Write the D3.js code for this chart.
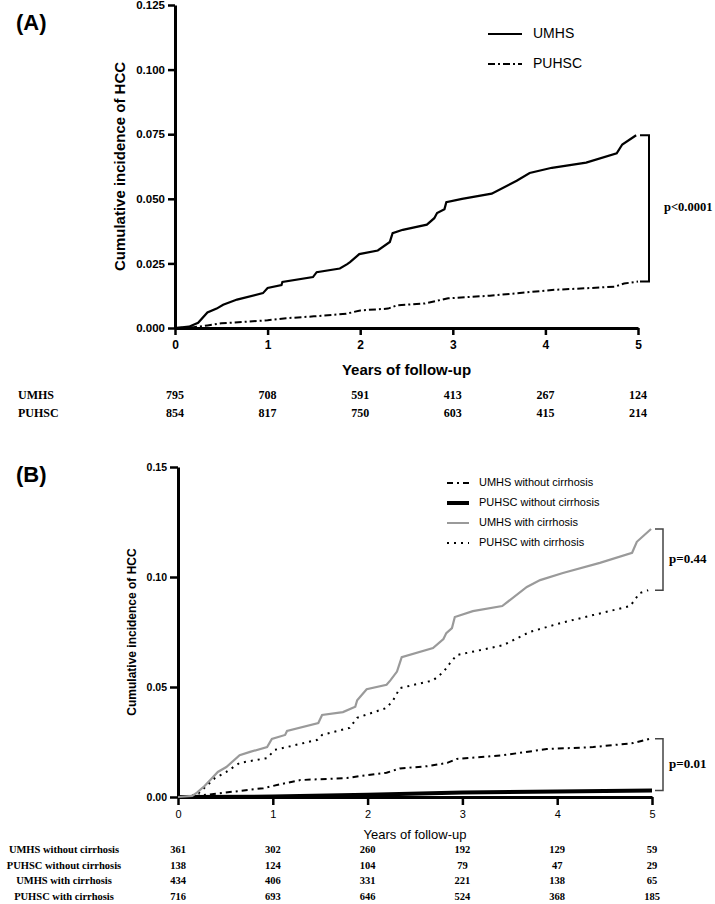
<!DOCTYPE html>
<html><head><meta charset="utf-8">
<script src="https://cdn.jsdelivr.net/npm/d3@7"></script>
<style>body{margin:0;background:#fff} svg{display:block}</style>
</head><body>
<script>
// ---------- DATA ----------
const yearTicks = [0, 1, 2, 3, 4, 5];
const aYTicks = [0, 0.025, 0.05, 0.075, 0.1, 0.125];
const bYTicks = [0, 0.05, 0.1, 0.15];

// Panel A: cumulative incidence [year, value]
const aUMHS = [[0,0],[0.15,0.0005],[0.25,0.002],[0.35,0.006],[0.45,0.0075],[0.52,0.009],[0.67,0.011],[0.95,0.0135],[1.0,0.0155],[1.15,0.0166],[1.16,0.0178],[1.49,0.0197],[1.53,0.0216],[1.78,0.023],[1.86,0.0247],[1.89,0.0255],[1.99,0.0286],[2.19,0.030],[2.32,0.0333],[2.35,0.0367],[2.46,0.038],[2.72,0.040],[2.80,0.0425],[2.83,0.0445],[2.91,0.046],[2.93,0.0487],[3.10,0.050],[3.42,0.052],[3.69,0.057],[3.83,0.060],[4.07,0.062],[4.44,0.064],[4.77,0.0676],[4.83,0.071],[4.98,0.0746]];
const aPUHSC = [[0,0],[0.2,0.0003],[0.35,0.001],[0.5,0.0018],[0.8,0.0025],[1.0,0.003],[1.2,0.0038],[1.5,0.0045],[1.85,0.0055],[2.0,0.0068],[2.3,0.0075],[2.4,0.0088],[2.7,0.0095],[2.95,0.0115],[3.4,0.0125],[3.8,0.0138],[4.1,0.0148],[4.5,0.0155],[4.75,0.016],[4.85,0.0172],[5.0,0.018]];
const aGroups = ["UMHS", "PUHSC"];
const aRisk = [[795,708,591,413,267,124],[854,817,750,603,415,214]];

// Panel B
const bUMHSnoC = [[0,0],[0.2,0.0005],[0.5,0.002],[0.9,0.004],[1.1,0.006],[1.29,0.0077],[1.78,0.0086],[1.92,0.0095],[2.2,0.011],[2.34,0.013],[2.63,0.014],[2.84,0.0155],[2.94,0.0173],[3.43,0.019],[3.89,0.0218],[4.38,0.0227],[4.8,0.0245],[4.98,0.0265]];
const bPUHSCnoC = [[0,0],[1.0,0.0002],[2.0,0.001],[3.0,0.002],[4.0,0.0025],[5.0,0.003]];
const bUMHSC = [[0,0],[0.15,0.0005],[0.2,0.002],[0.28,0.005],[0.34,0.0077],[0.42,0.0114],[0.51,0.0136],[0.65,0.019],[0.76,0.0205],[0.94,0.0227],[0.99,0.0264],[1.13,0.0282],[1.15,0.030],[1.48,0.0336],[1.52,0.0373],[1.74,0.0386],[1.87,0.041],[1.89,0.044],[1.99,0.049],[2.2,0.051],[2.24,0.053],[2.31,0.057],[2.36,0.0636],[2.69,0.0677],[2.8,0.0718],[2.83,0.0745],[2.89,0.0768],[2.92,0.0818],[3.11,0.0845],[3.42,0.0868],[3.68,0.0955],[3.82,0.0986],[4.06,0.1018],[4.45,0.1064],[4.79,0.111],[4.84,0.116],[4.99,0.1218]];
const bPUHSCC = [[0,0],[0.2,0.001],[0.3,0.005],[0.39,0.0086],[0.51,0.0114],[0.65,0.0155],[0.94,0.0177],[1.02,0.0214],[1.47,0.026],[1.52,0.0282],[1.81,0.0314],[1.89,0.036],[2.2,0.0405],[2.27,0.044],[2.34,0.0495],[2.69,0.053],[2.8,0.0568],[2.87,0.0609],[2.94,0.0645],[3.43,0.069],[3.71,0.075],[4.03,0.079],[4.38,0.0827],[4.77,0.0868],[4.87,0.0927],[4.96,0.094]];
const bGroups = ["UMHS without cirrhosis","PUHSC without cirrhosis","UMHS with cirrhosis","PUHSC with cirrhosis"];
const bRisk = [[361,302,260,192,129,59],[138,124,104,79,47,29],[434,406,331,221,138,65],[716,693,646,524,368,185]];

// ---------- DRAW ----------
const W = 715, H = 904;
const svg = d3.select("body").append("svg").attr("width", W).attr("height", H);
const sans = "'Liberation Sans', Arial, sans-serif";
const serif = "'Liberation Serif', 'Times New Roman', serif";

function styleAxis(g, fs) {
  g.select(".domain").attr("stroke", "#000").attr("stroke-width", 3);
  g.selectAll(".tick line").attr("stroke", "#000").attr("stroke-width", 2.5);
  g.selectAll(".tick text").attr("font-family", sans).attr("font-size", fs)
    .attr("font-weight", "bold").attr("fill", "#000");
}

// ===== Panel A =====
const ax = d3.scaleLinear([0, 5], [175, 638]);
const ay = d3.scaleLinear([0, 0.125], [328, 5]);

svg.append("text").attr("x", 16).attr("y", 30).text("(A)")
  .attr("font-family", sans).attr("font-size", 22).attr("font-weight", "bold");

const gAy = svg.append("g").attr("transform", `translate(${ax(0)},0)`)
  .call(d3.axisLeft(ay).tickValues(aYTicks).tickSize(7).tickSizeOuter(0).tickFormat(d3.format(".3f")));
styleAxis(gAy, 11.5);
const gAx = svg.append("g").attr("transform", `translate(0,${ay(0)})`)
  .call(d3.axisBottom(ax).tickValues(yearTicks).tickSize(7).tickSizeOuter(0).tickFormat(d3.format("d")));
styleAxis(gAx, 12);
gAx.selectAll(".tick text").attr("dy", "0.9em");

svg.append("text").attr("transform", `translate(121,${(ay(0)+ay(0.125))/2}) rotate(-90)`)
  .attr("text-anchor", "middle").attr("dominant-baseline", "middle")
  .attr("font-family", sans).attr("font-size", 15).attr("font-weight", "bold")
  .text("Cumulative incidence of HCC");
svg.append("text").attr("x", (ax(0)+ax(5))/2).attr("y", ay(0) + 47)
  .attr("text-anchor", "middle").attr("font-family", sans).attr("font-size", 15).attr("font-weight", "bold")
  .text("Years of follow-up");

const lineA = d3.line().x(d => ax(d[0])).y(d => ay(d[1]));
svg.append("path").datum(aUMHS).attr("d", lineA).attr("fill", "none").attr("stroke", "#000").attr("stroke-width", 2.2);
svg.append("path").datum(aPUHSC).attr("d", lineA).attr("fill", "none").attr("stroke", "#000").attr("stroke-width", 2)
  .attr("stroke-dasharray", "7,3,2,3");

// legend A
const legA = [{name: "UMHS", dash: null}, {name: "PUHSC", dash: "7,3,2,3"}];
legA.forEach((d, i) => {
  const y = 34 + i * 30;
  svg.append("line").attr("x1", 488).attr("x2", 522).attr("y1", y).attr("y2", y)
    .attr("stroke", "#000").attr("stroke-width", 2).attr("stroke-dasharray", d.dash);
  svg.append("text").attr("x", 533).attr("y", y).attr("dominant-baseline", "middle")
    .attr("font-family", sans).attr("font-size", 14).text(d.name);
});

// bracket A
{
  const xr = ax(5) + 11, xl = ax(5) + 2;
  const yt = ay(aUMHS[aUMHS.length-1][1]), yb = ay(aPUHSC[aPUHSC.length-1][1]);
  svg.append("path").attr("d", `M${xl},${yt}H${xr}V${yb}H${xl}`).attr("fill", "none").attr("stroke", "#000").attr("stroke-width", 2);
  svg.append("text").attr("x", xr + 15).attr("y", (yt+yb)/2).attr("dominant-baseline", "middle")
    .attr("font-family", serif).attr("font-size", 12.5).attr("font-weight", "bold").text("p<0.0001");
}

// risk table A
aGroups.forEach((g, i) => {
  const y = ay(0) + 68 + i * 18;
  svg.append("text").attr("x", 18).attr("y", y).attr("dominant-baseline", "middle")
    .attr("font-family", serif).attr("font-size", 12).attr("font-weight", "bold").text(g);
  aRisk[i].forEach((v, j) => {
    svg.append("text").attr("x", ax(yearTicks[j])).attr("y", y).attr("text-anchor", "middle").attr("dominant-baseline", "middle")
      .attr("font-family", serif).attr("font-size", 12).attr("font-weight", "bold").text(v);
  });
});

// ===== Panel B =====
const bx = d3.scaleLinear([0, 5], [178, 652]);
const by = d3.scaleLinear([0, 0.15], [797, 467]);

svg.append("text").attr("x", 16).attr("y", 482).text("(B)")
  .attr("font-family", sans).attr("font-size", 22).attr("font-weight", "bold");

const gBy = svg.append("g").attr("transform", `translate(${bx(0)},0)`)
  .call(d3.axisLeft(by).tickValues(bYTicks).tickSize(8).tickSizeOuter(0).tickFormat(d3.format(".2f")));
styleAxis(gBy, 10.5);
const gBx = svg.append("g").attr("transform", `translate(0,${by(0)})`)
  .call(d3.axisBottom(bx).tickValues(yearTicks).tickSize(8).tickSizeOuter(0).tickFormat(d3.format("d")));
styleAxis(gBx, 11);
gBx.selectAll(".tick text").attr("font-weight", "normal").attr("dy", "0.9em");

svg.append("text").attr("transform", `translate(133,${(by(0)+by(0.15))/2}) rotate(-90)`)
  .attr("text-anchor", "middle").attr("dominant-baseline", "middle")
  .attr("font-family", sans).attr("font-size", 12).attr("font-weight", "bold")
  .text("Cumulative incidence of HCC");
svg.append("text").attr("x", (bx(0)+bx(5))/2).attr("y", by(0) + 42)
  .attr("text-anchor", "middle").attr("font-family", sans).attr("font-size", 13)
  .text("Years of follow-up");

const lineB = d3.line().x(d => bx(d[0])).y(d => by(d[1]));
const bSeries = [
  {data: bPUHSCnoC, color: "#000", w: 4, dash: null},
  {data: bUMHSnoC, color: "#000", w: 2, dash: "6,4,2,4"},
  {data: bPUHSCC, color: "#000", w: 2, dash: "2,5"},
  {data: bUMHSC, color: "#9a9a9a", w: 2.2, dash: null}
];
bSeries.forEach(s => {
  svg.append("path").datum(s.data).attr("d", lineB).attr("fill", "none")
    .attr("stroke", s.color).attr("stroke-width", s.w).attr("stroke-dasharray", s.dash);
});

// legend B
const legB = [
  {name: bGroups[0], color: "#000", w: 2, dash: "6,4,2,4"},
  {name: bGroups[1], color: "#000", w: 4, dash: null},
  {name: bGroups[2], color: "#9a9a9a", w: 2, dash: null},
  {name: bGroups[3], color: "#000", w: 2, dash: "2,5"}
];
legB.forEach((d, i) => {
  const y = 483 + i * 20;
  svg.append("line").attr("x1", 447).attr("x2", 469).attr("y1", y).attr("y2", y)
    .attr("stroke", d.color).attr("stroke-width", d.w).attr("stroke-dasharray", d.dash);
  svg.append("text").attr("x", 479).attr("y", y).attr("dominant-baseline", "middle")
    .attr("font-family", sans).attr("font-size", 11).text(d.name);
});

// brackets B
function bracketB(yTopVal, yBotVal, label) {
  const xl = bx(5) + 3, xr = bx(5) + 11;
  const yt = by(yTopVal), yb = by(yBotVal);
  svg.append("path").attr("d", `M${xl},${yt}H${xr}V${yb}H${xl}`).attr("fill", "none").attr("stroke", "#444").attr("stroke-width", 1.5);
  svg.append("text").attr("x", xr + 6).attr("y", (yt+yb)/2).attr("dominant-baseline", "middle")
    .attr("font-family", serif).attr("font-size", 13).attr("font-weight", "bold").text(label);
}
bracketB(bUMHSC[bUMHSC.length-1][1], bPUHSCC[bPUHSCC.length-1][1], "p=0.44");
bracketB(bUMHSnoC[bUMHSnoC.length-1][1], bPUHSCnoC[bPUHSCnoC.length-1][1], "p=0.01");

// risk table B
bGroups.forEach((g, i) => {
  const y = 851 + i * 15.5;
  svg.append("text").attr("x", 64).attr("y", y).attr("text-anchor", "middle").attr("dominant-baseline", "middle")
    .attr("font-family", serif).attr("font-size", 10.5).attr("font-weight", "bold").text(g);
  bRisk[i].forEach((v, j) => {
    svg.append("text").attr("x", bx(yearTicks[j])).attr("y", y).attr("text-anchor", "middle").attr("dominant-baseline", "middle")
      .attr("font-family", serif).attr("font-size", 10.5).attr("font-weight", "bold").text(v);
  });
});
</script>
</body></html>
